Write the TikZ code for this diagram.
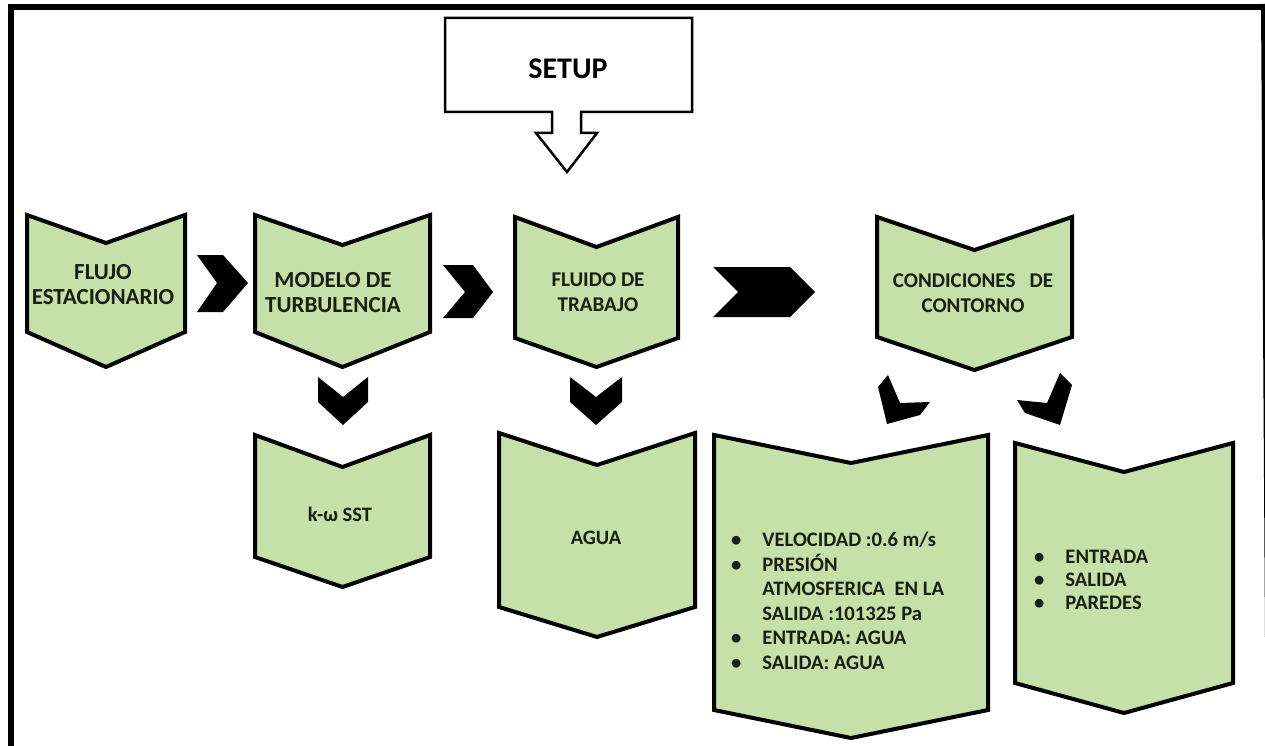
\documentclass[tikz,border=0pt]{standalone}
\usepackage{fontspec}
\setmainfont{Carlito}
\definecolor{boxgreen}{RGB}{197,224,168}
\definecolor{inkdark}{RGB}{24,32,18}

\tikzset{
  gshape/.style={draw=black, fill=boxgreen, line width=4pt, line join=miter},
  blk/.style={fill=black},
  lbl/.style={text=inkdark, font=\bfseries\fontsize{21}{25}\selectfont, align=center, inner sep=0pt},
  biglbl/.style={lbl, font=\bfseries\fontsize{23}{25}\selectfont},
  lst/.style={text=inkdark, font=\bfseries\fontsize{20.6}{24.6}\selectfont, anchor=north west, inner sep=0pt},
  frameline/.style={line width=6pt},
}

% pentagon "chevron" block: xl, ytop, xr, ybottom, notch depth, tip depth
\newcommand{\greenbox}[6]{%
  \path[gshape] (#1,#2) -- ({(#1+#3)/2},{#2+#5}) -- (#3,#2) -- (#3,#4)
     -- ({(#1+#3)/2},{#4+#6}) -- (#1,#4) -- cycle;}

\begin{document}
\begin{tikzpicture}[x=1pt,y=-1pt]
\useasboundingbox (0,0) rectangle (1265,746);
\fill[white] (0,0) rectangle (1265,746);

% outer frame, open at the bottom; the right edge runs off the page
\draw[frameline] (8,7) -- (1265,7);
\draw[frameline] (11,4) -- (11,746);
\fill[black] (1261,4) -- (1265,4) -- (1265,640) -- cycle;

% SETUP callout with its hollow down arrow
\draw[line width=2.5pt, fill=white, line join=miter]
  (445,18) -- (692,18) -- (692,112) -- (581,112) -- (581,133) -- (597,133)
  -- (567,172) -- (536,133) -- (552,133) -- (552,112) -- (445,112) -- cycle;
\node[font=\bfseries\fontsize{30}{30}\selectfont, inner sep=0pt] (setup) at (568,69) {SETUP};

% green blocks
\greenbox{27}{215}{185}{332}{28}{35}
\greenbox{255}{215}{430}{332}{30}{35}
\greenbox{515}{217}{678}{338}{30}{29}
\greenbox{877}{217}{1072}{337}{33}{33}
\greenbox{255}{435}{430}{557}{32}{30}
\greenbox{499}{433}{695}{607}{32}{30}
\greenbox{714}{435}{988}{710}{28}{28}
\greenbox{1015}{443}{1233}{683}{29}{30}

% black chevrons between the blocks
\fill[blk] (197,255) -- (223,255) -- (248,283) -- (223,312) -- (197,312) -- (217,283) -- cycle;
\fill[blk] (443,265) -- (473,265) -- (493,292) -- (473,318) -- (443,318) -- (465,292) -- cycle;
\fill[blk] (713,267) -- (790,267) -- (815,292) -- (790,317) -- (713,317) -- (738,292) -- cycle;
\fill[blk] (318,377) -- (343,397) -- (368,377) -- (368,402) -- (343,425) -- (318,402) -- cycle;
\fill[blk] (570,377) -- (596,397) -- (622,377) -- (622,402) -- (596,425) -- (570,402) -- cycle;
\fill[blk] (888,375) -- (900,403) -- (930,402) -- (920,415) -- (887,424) -- (878,387) -- cycle;
\fill[blk] (1060,373) -- (1072,385) -- (1060,425) -- (1025,413) -- (1017,400) -- (1047,403) -- cycle;

% labels
\node[biglbl] (flujo) at (103,285) {FLUJO\\ESTACIONARIO};
\node[biglbl] (modelo) at (333,293) {MODELO DE\\TURBULENCIA};
\node[lbl] (fluido) at (598,292) {FLUIDO DE\\TRABAJO};
\node[lbl] (cond) at (973,293) {CONDICIONES\ \ \ DE\\CONTORNO};
\node[lbl, font=\bfseries\fontsize{20.5}{24}\selectfont] (kw) at (340,514) {k-ω SST};
\node[lbl, font=\bfseries\fontsize{20.5}{24}\selectfont] (agua) at (596,538) {AGUA};

\node[lst] (vel) at (731,529) {%
  \begin{tabular}{@{}l@{\hspace{21pt}}l@{}}
  \textbullet & VELOCIDAD :0.6 m/s\\
  \textbullet & PRESIÓN\\
              & ATMOSFERICA\ \ EN LA\\
              & SALIDA :101325 Pa\\
  \textbullet & ENTRADA: AGUA\\
  \textbullet & SALIDA: AGUA
  \end{tabular}};
\node[lst, font=\bfseries\fontsize{20.6}{23}\selectfont] (bound) at (1034,547) {%
  \begin{tabular}{@{}l@{\hspace{21pt}}l@{}}
  \textbullet & ENTRADA\\
  \textbullet & SALIDA\\
  \textbullet & PAREDES
  \end{tabular}};
\end{tikzpicture}
\end{document}
